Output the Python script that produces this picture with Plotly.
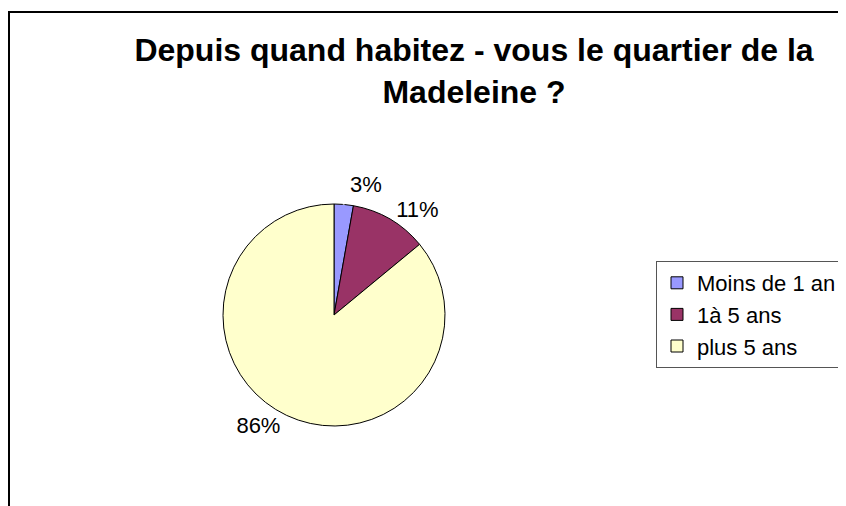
import plotly.graph_objects as go

categories = ["Moins de 1 an", "1à 5 ans", "plus 5 ans"]
values = [3, 12, 92]
colors = ["#9999FF", "#993366", "#FFFFCC"]
title_text = "Depuis quand habitez - vous le quartier de la<br>Madeleine ?"

W, H = 846, 506
# the page places the figure 8px from the top-left corner
cx, cy, r = 326, 307, 111

fig = go.Figure(go.Pie(
    labels=categories,
    values=values,
    sort=False,
    direction="clockwise",
    rotation=0,
    marker=dict(colors=colors, line=dict(color="#000000", width=1)),
    texttemplate="<span style='color:#000000'>%{percent:.0%}</span>",
    textposition="outside",
    textfont=dict(family="Liberation Sans, Arial", size=22, color="#FFFFFF"),
    hoverinfo="label+percent",
    domain=dict(x=[(cx - r) / W, (cx + r) / W], y=[1 - (cy + r) / H, 1 - (cy - r) / H]),
    automargin=False,
))

fig.update_layout(
    width=W, height=H,
    margin=dict(l=0, r=0, t=0, b=0),
    paper_bgcolor="#FFFFFF",
    plot_bgcolor="#FFFFFF",
    title=dict(
        text=title_text,
        x=466 / W, xanchor="center",
        y=1 - 53 / H, yanchor="top",
        font=dict(family="Liberation Sans, Arial", size=32, color="#000000", weight="bold"),
    ),
    legend=dict(
        x=648 / W, xanchor="left",
        y=1 - 253 / H, yanchor="top",
        bordercolor="#555555", borderwidth=1,
        bgcolor="#FFFFFF",
        font=dict(family="Liberation Sans, Arial", size=22, color="#000000"),
        tracegroupgap=0,
    ),
    shapes=[dict(
        type="rect", xref="paper", yref="paper",
        x0=1 / W, x1=1.05, y0=-0.05, y1=1 - 4 / H,
        line=dict(color="#000000", width=2),
        fillcolor="rgba(0,0,0,0)",
        layer="above",
    )],
)

fig.write_html("out.html")
